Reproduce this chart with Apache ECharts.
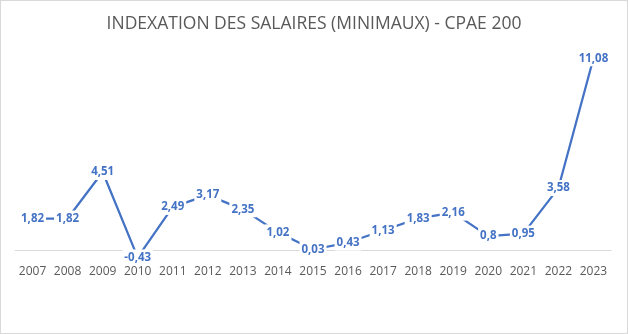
<!DOCTYPE html>
<html>
<head>
<meta charset="utf-8">
<script src="https://cdn.jsdelivr.net/npm/echarts@6/dist/echarts.min.js"></script>
<style>
html,body{margin:0;padding:0;background:#fff;}
#c{width:626px;height:332px;border:1px solid #d9d9d9;}
</style>
</head>
<body>
<div id="c"></div>
<script>
const titleText = "INDEXATION DES SALAIRES (MINIMAUX) - CPAE 200";
const categories = ["2007","2008","2009","2010","2011","2012","2013","2014","2015","2016","2017","2018","2019","2020","2021","2022","2023"];
const values = [1.82,1.82,4.51,-0.43,2.49,3.17,2.35,1.02,0.03,0.43,1.13,1.83,2.16,0.8,0.95,3.58,11.08];

const chart = echarts.init(document.getElementById('c'), null, {renderer:'canvas'});
chart.setOption({
  animation:false,
  title:{
    text:titleText,
    left:'center',
    top:9,
    textStyle:{fontFamily:'Open Sans',fontSize:17.5,fontWeight:'normal',color:'#595959'}
  },
  grid:{left:14,right:16,top:41.4,bottom:83,containLabel:false},
  xAxis:{
    type:'category',
    data:categories,
    boundaryGap:true,
    axisLine:{lineStyle:{color:'#d9d9d9',width:1}},
    axisTick:{show:false},
    axisLabel:{interval:0,fontFamily:'Open Sans',fontSize:12,color:'#595959',margin:16}
  },
  yAxis:{
    type:'value',min:0,max:12,
    show:false,
    splitLine:{show:false}
  },
  series:[{
    type:'line',
    data:values,
    clip:false,
    symbol:'circle',
    symbolSize:0.01,
    itemStyle:{color:'#4472C4'},
    lineStyle:{color:'#4472C4',width:2.25},
    label:{
      show:true,
      position:'inside',
      fontFamily:'Open Sans',
      fontSize:11.5,
      fontWeight:'bold',
      color:'#4472C4',
      backgroundColor:'#ffffff',
      padding:[2,2],
      formatter:function(p){return String(p.value).replace('.',',');}
    }
  }]
});
</script>
</body>
</html>
